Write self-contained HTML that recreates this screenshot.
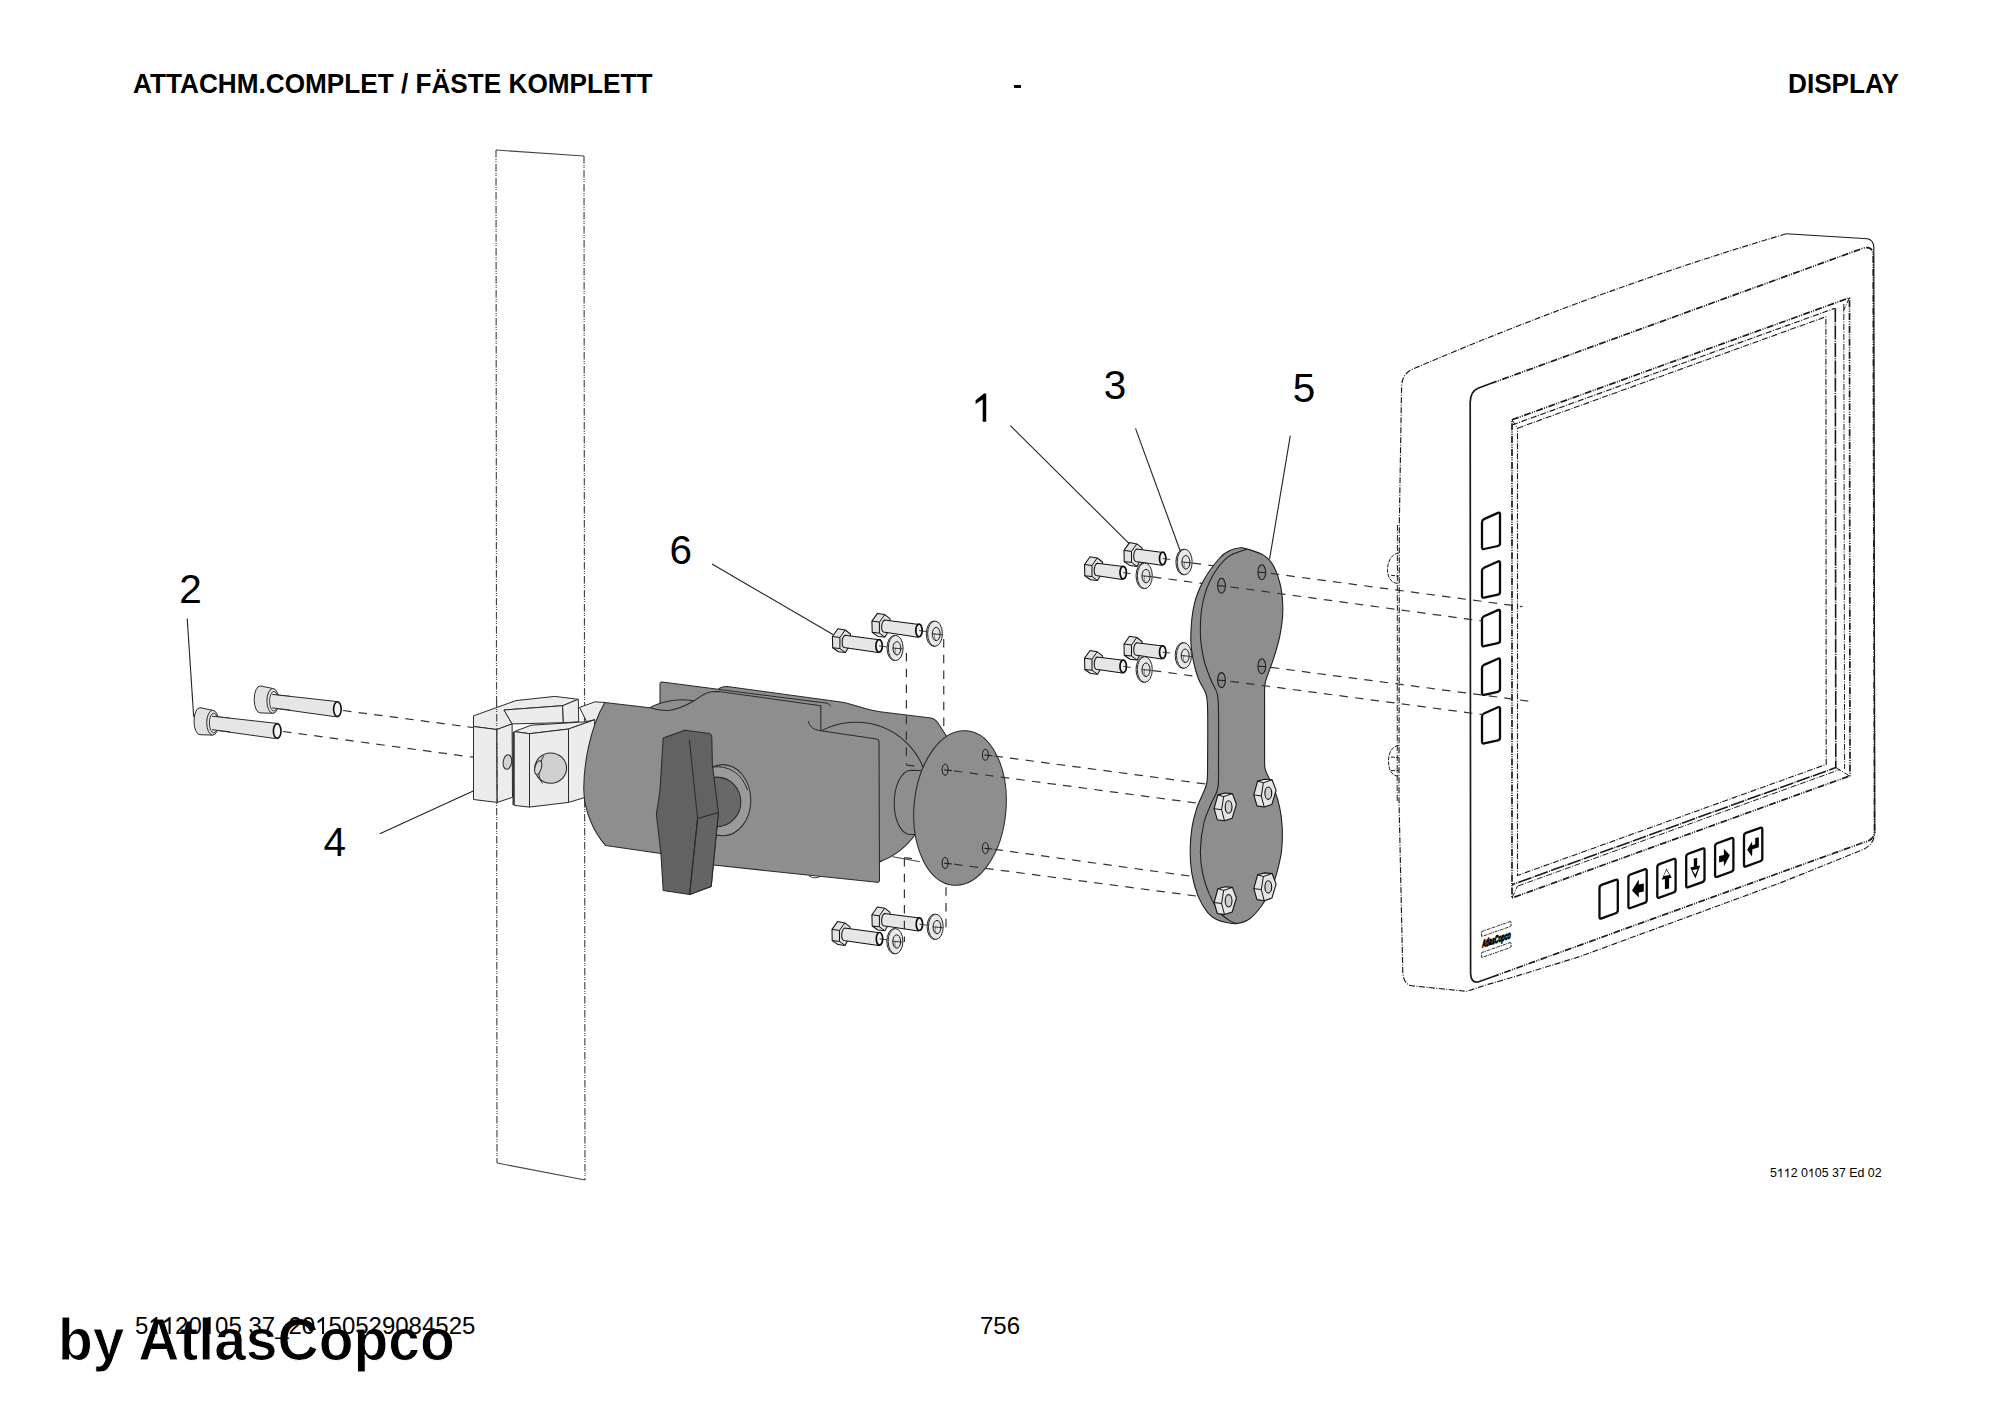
<!DOCTYPE html><html><head><meta charset="utf-8"><style>html,body{margin:0;padding:0;background:#fff;overflow:hidden}svg{display:block}</style></head><body>
<svg width="2000" height="1414" viewBox="0 0 2000 1414">
<rect width="2000" height="1414" fill="#fff"/>
<g stroke="#454545" stroke-width="1.15" fill="none">
<path d="M496,150 L497,1163" stroke-dasharray="7.5 1.5 1 1 1 2"/>
<path d="M584,156 L585,1180" stroke-dasharray="7.5 1.5 1 1 1 2"/>
<path d="M496,150 L584,156"/>
<path d="M497,1163 L585,1180"/>
</g>
<path d="M343.0,710.5 L473.0,727.5" stroke="#333" stroke-width="1.2" fill="none" stroke-dasharray="8.5 7.2" stroke-dashoffset="0"/>
<path d="M283.0,731.5 L473.0,757.2" stroke="#333" stroke-width="1.2" fill="none" stroke-dasharray="8.5 7.2" stroke-dashoffset="0"/>
<polygon points="270.7,694.2 338.2,701.7 335.2,716.7 270.7,707.7" fill="#e6e6e6" stroke="#2a2a2a" stroke-width="1"/>
<ellipse cx="337.4" cy="709.2" rx="3.8" ry="7.4" fill="#f4f4f4" stroke="#111" stroke-width="1.6"/>
<path d="M260.2,685.9 A6,13.5 0 0 0 260.2,712.9 L272.9,713.3 L272.9,688.5 Z" fill="#e2e2e2" stroke="#2a2a2a" stroke-width="1"/>
<ellipse cx="272.9" cy="700.9" rx="6" ry="12.4" fill="#e2e2e2" stroke="#2a2a2a" stroke-width="1"/>
<ellipse cx="273.9" cy="701.2" rx="4.3" ry="9.8" fill="#e8e8e8" stroke="#2a2a2a" stroke-width="0.9"/>
<polygon points="272.2,694.4 290.2,696.4 290.2,710.0 272.2,707.9" fill="#e6e6e6" stroke="none"/>
<path d="M272.2,694.4 L290.2,696.4 M272.2,707.9 L290.2,710.0" stroke="#2a2a2a" stroke-width="1" fill="none"/>
<polygon points="210.5,716.0 278.0,723.5 275.0,738.5 210.5,729.5" fill="#e6e6e6" stroke="#2a2a2a" stroke-width="1"/>
<ellipse cx="277.2" cy="731" rx="3.8" ry="7.4" fill="#f4f4f4" stroke="#111" stroke-width="1.6"/>
<path d="M200.0,707.7 A6,13.5 0 0 0 200.0,734.7 L212.7,735.1 L212.7,710.3 Z" fill="#e2e2e2" stroke="#2a2a2a" stroke-width="1"/>
<ellipse cx="212.7" cy="722.7" rx="6" ry="12.4" fill="#e2e2e2" stroke="#2a2a2a" stroke-width="1"/>
<ellipse cx="213.7" cy="723.0" rx="4.3" ry="9.8" fill="#e8e8e8" stroke="#2a2a2a" stroke-width="0.9"/>
<polygon points="212.0,716.2 230.0,718.2 230.0,731.8 212.0,729.7" fill="#e6e6e6" stroke="none"/>
<path d="M212.0,716.2 L230.0,718.2 M212.0,729.7 L230.0,731.8" stroke="#2a2a2a" stroke-width="1" fill="none"/>
<path d="M187.2,618.5 L193.7,717.0" stroke="#222" stroke-width="1.1" fill="none"/>
<path d="M379.8,833.7 L473.2,790.9" stroke="#222" stroke-width="1.1" fill="none"/>
<polygon points="579.5,707.4 594.8,701.9 606.0,702.5 606.0,760.0 586.3,721.0" fill="#ececec" stroke="#2a2a2a" stroke-width="1" stroke-linejoin="round"/>
<polygon points="473.5,715.9 515.9,700.6 554.9,696.4 578.3,699.3 562.6,705.7 504.0,710.0 512.1,723.9 496.8,729.5 473.5,726.5" fill="#ececec" stroke="#2a2a2a" stroke-width="1" stroke-linejoin="round"/>
<polygon points="504.0,710.0 562.6,705.7 563.4,722.7 512.1,723.9" fill="#ececec" stroke="#2a2a2a" stroke-width="1" stroke-linejoin="round"/>
<polygon points="562.6,705.7 578.3,699.3 578.7,721.8 563.4,722.7" fill="#ececec" stroke="#2a2a2a" stroke-width="1" stroke-linejoin="round"/>
<polygon points="473.5,726.5 496.8,729.5 497.2,802.4 473.5,799.5" fill="#ececec" stroke="#2a2a2a" stroke-width="1" stroke-linejoin="round"/>
<polygon points="496.8,729.5 512.1,723.9 512.5,797.3 497.2,802.4" fill="#ececec" stroke="#2a2a2a" stroke-width="1" stroke-linejoin="round"/>
<ellipse cx="507.4" cy="762" rx="4.2" ry="7.4" fill="#d2d2d2" stroke="#2a2a2a" stroke-width="1" transform="rotate(8 507.4 762)"/>
<polygon points="514.2,731.6 531.2,725.2 585.5,721.8 594.8,719.7 568.5,729.0 529.5,733.7" fill="#ececec" stroke="#2a2a2a" stroke-width="1" stroke-linejoin="round"/>
<polygon points="568.5,729.0 594.8,719.7 590.0,796.0 568.5,802.4" fill="#ececec" stroke="#2a2a2a" stroke-width="1" stroke-linejoin="round"/>
<polygon points="514.2,731.6 529.5,733.7 529.5,807.1 514.2,805.4" fill="#ececec" stroke="#2a2a2a" stroke-width="1" stroke-linejoin="round"/>
<polygon points="529.5,733.7 568.5,729.0 568.5,802.4 529.5,807.1" fill="#ececec" stroke="#2a2a2a" stroke-width="1" stroke-linejoin="round"/>
<line x1="513.3" y1="732" x2="513.3" y2="805" stroke="#333" stroke-width="1.6"/>
<ellipse cx="550.7" cy="768.1" rx="15.9" ry="15.1" fill="#d0d0d0" stroke="#2a2a2a" stroke-width="1.1"/>
<path d="M544,755.5 C538,765 537,777 542.5,783.5" fill="none" stroke="#2a2a2a" stroke-width="1"/>
<ellipse cx="538.2" cy="767.6" rx="3.2" ry="7" fill="#d8d8d8" stroke="#2a2a2a" stroke-width="1" transform="rotate(15 538.2 767.6)"/>
<path d="M496.6,700 L497.2,803" stroke="#454545" stroke-width="1.15" stroke-dasharray="7.5 1.5 1 1 1 2" fill="none"/>
<path d="M660,702 L660,684 Q660,682 662,682 L718,689.3 Q721,686.5 727,686.5 L839,701.8 C852,703.5 866,710 880,711.7 L931,718 Q935,718.8 938,723 L947,737 L947,800 L880,862 L660,840 Z" fill="#8e8e8e" stroke="#2a2a2a" stroke-width="1.05" stroke-linejoin="round"/>
<ellipse cx="856" cy="793.7" rx="72" ry="71.5" fill="#8e8e8e" stroke="#2a2a2a" stroke-width="1.05" stroke-linejoin="round"/>
<path d="M649.9,707.7 C662,700.5 682,697.5 697,701.5 L700,714 L649,714 Z" fill="#8e8e8e" stroke="#2a2a2a" stroke-width="1.05" stroke-linejoin="round"/>
<path d="M604.8,702.6 L649.9,707.7 C658,710 663,710.8 668.3,710.4 C680,709.3 688,704.5 694.9,700.3 C701,696 705,692.5 711.5,691.8 L718.8,691.4 L820.8,705.8 L820.8,730.8 L876.5,738.9 Q879,739.3 879,742 L879.5,880 Q879.5,882.6 877,882.3 L711.2,864.8 L660.8,853.6 L605.6,845.6 C594,832 584.2,812 583.8,790 C583.5,765 590,728 604.8,702.6 Z" fill="#8e8e8e" stroke="#2a2a2a" stroke-width="1.05" stroke-linejoin="round"/>
<path d="M718.5,689.4 L827,703.2 Q829.5,703.8 830.5,706.3" fill="none" stroke="#2a2a2a" stroke-width="1"/>
<path d="M808.1,720.9 Q810,729.5 820.8,730.8" fill="none" stroke="#2a2a2a" stroke-width="1"/>
<ellipse cx="722.8" cy="800.2" rx="28" ry="35.6" fill="#9a9a9a" stroke="#2a2a2a" stroke-width="1.05"/>
<path d="M712.6,767 C728,765.5 741,772 747.5,790" fill="none" stroke="#2a2a2a" stroke-width="1"/>
<ellipse cx="716.8" cy="801.9" rx="24" ry="24.8" fill="#686868" stroke="#2a2a2a" stroke-width="1.05"/>
<path d="M663.2,738 L684.8,730.2 L709.6,733.4 Q711.8,734.5 711.8,737 L712.4,764.7 L718.4,812.8 L711.2,886.4 L689.6,894.4 L663.2,890.4 L660.8,852 L656.4,814.5 L660,790 Z" fill="#626262" stroke="#2a2a2a" stroke-width="1.05" stroke-linejoin="round"/>
<path d="M697.6,818.4 L718.4,812.5 L711.2,886.4 L689.6,894.4 Z" fill="#646464" stroke="#2a2a2a" stroke-width="1.05" stroke-linejoin="round"/>
<path d="M689.4,739.9 L697.6,818.4 L689.6,894.4" fill="none" stroke="#2a2a2a" stroke-width="1"/>
<path d="M808.8,875.6 Q814,879.5 820,876.6" fill="none" stroke="#2a2a2a" stroke-width="0.9"/>
<path d="M906.4,653.0 L906.4,764.5" stroke="#333" stroke-width="1.2" fill="none" stroke-dasharray="8.5 7.2" stroke-dashoffset="0"/>
<path d="M906.4,765.2 L914.5,765.8" stroke="#333" stroke-width="1.2" fill="none" stroke-dasharray="8 7" stroke-dashoffset="0"/>
<path d="M943.7,639.0 L943.8,732.0" stroke="#333" stroke-width="1.2" fill="none" stroke-dasharray="8.5 7.2" stroke-dashoffset="0"/>
<path d="M911,770.3 L935,771 L935,834.5 L910,834.5 C900,834 894.2,818 894.2,803.5 C894.2,786 901,771 911,770.3 Z" fill="#8e8e8e" stroke="#2a2a2a" stroke-width="1.05"/>
<path d="M892.3,856.7 L919.8,861.7" stroke="#2a2a2a" stroke-width="0.9" fill="none"/>
<ellipse cx="960" cy="808" rx="46" ry="77.5" transform="rotate(5 960 808)" fill="#8e8e8e" stroke="#2a2a2a" stroke-width="1.05"/>
<ellipse cx="945.1" cy="769.7" rx="3" ry="5.6" fill="none" stroke="#1a1a1a" stroke-width="1"/>
<path d="M944.1,769.9 L952.1,770.7" stroke="#1a1a1a" stroke-width="1"/>
<ellipse cx="985.4" cy="754.8" rx="3" ry="5.6" fill="none" stroke="#1a1a1a" stroke-width="1"/>
<path d="M984.4,755.0 L992.4,755.8" stroke="#1a1a1a" stroke-width="1"/>
<ellipse cx="945.1" cy="863" rx="3" ry="5.6" fill="none" stroke="#1a1a1a" stroke-width="1"/>
<path d="M944.1,863.2 L952.1,864.0" stroke="#1a1a1a" stroke-width="1"/>
<ellipse cx="985.4" cy="848.1" rx="3" ry="5.6" fill="none" stroke="#1a1a1a" stroke-width="1"/>
<path d="M984.4,848.3 L992.4,849.1" stroke="#1a1a1a" stroke-width="1"/>
<path d="M954.1,770.9 L1215.0,805.5" stroke="#333" stroke-width="1.2" fill="none" stroke-dasharray="8.5 7.2" stroke-dashoffset="0"/>
<path d="M994.4,756.0 L1255.0,790.5" stroke="#333" stroke-width="1.2" fill="none" stroke-dasharray="8.5 7.2" stroke-dashoffset="0"/>
<path d="M954.1,864.2 L1215.0,898.5" stroke="#333" stroke-width="1.2" fill="none" stroke-dasharray="8.5 7.2" stroke-dashoffset="0"/>
<path d="M994.4,849.3 L1255.0,885.0" stroke="#333" stroke-width="1.2" fill="none" stroke-dasharray="8.5 7.2" stroke-dashoffset="0"/>
<polygon points="871.9,621.1 877.4,613.4 884.7,614.6 889.9,618.6 890.2,625.4 887.4,632.9 884.9,637.1 877.9,636.4 872.2,632.4" fill="#e2e2e2" stroke="#111" stroke-width="1.05" stroke-linejoin="round"/>
<path d="M871.9,621.1 L879.4,622.1 L884.7,614.6 M879.4,622.1 L879.4,633.1 L884.9,637.1 M872.2,632.4 L879.4,633.1" fill="none" stroke="#111" stroke-width="1"/>
<path d="M884.4,619.9 L919.2,624.4 L918.0,637.3 L883.4,632.1 C880.9,630.4 880.9,622.4 884.4,619.9 Z" fill="#e6e6e6" stroke="#111" stroke-width="1.05" stroke-linejoin="round"/>
<ellipse cx="919.0" cy="630.5" rx="3.2" ry="6.3" fill="#f4f4f4" stroke="#0a0a0a" stroke-width="1.7"/>
<path d="M919.0,630.5 L926.5,631.5" stroke="#222" stroke-width="0.9"/>
<ellipse cx="933.7" cy="633.7" rx="7.4" ry="12.6" fill="#e0e0e0" stroke="#2a2a2a" stroke-width="1"/>
<ellipse cx="935.0" cy="633.7" rx="7.4" ry="12.6" fill="#e8e8e8" stroke="#2a2a2a" stroke-width="1"/>
<ellipse cx="936.2" cy="634.0" rx="3.9" ry="6.7" fill="#e4e4e4" stroke="#1a1a1a" stroke-width="1"/>
<path d="M935.2,633.5 C933.5,636.7 934.5,638.7 935.8,640.2" fill="none" stroke="#333" stroke-width="0.6"/>
<path d="M932.0,633.7 L942.0,634.6" stroke="#222" stroke-width="0.9"/>
<polygon points="832.4,636.5 837.9,628.8 845.2,630.0 850.4,634.0 850.7,640.8 847.9,648.3 845.4,652.5 838.4,651.8 832.7,647.8" fill="#e2e2e2" stroke="#111" stroke-width="1.05" stroke-linejoin="round"/>
<path d="M832.4,636.5 L839.9,637.5 L845.2,630.0 M839.9,637.5 L839.9,648.5 L845.4,652.5 M832.7,647.8 L839.9,648.5" fill="none" stroke="#111" stroke-width="1"/>
<path d="M844.9,635.3 L879.3,639.8 L878.1,652.6 L843.9,647.5 C841.4,645.8 841.4,637.8 844.9,635.3 Z" fill="#e6e6e6" stroke="#111" stroke-width="1.05" stroke-linejoin="round"/>
<ellipse cx="879.1" cy="645.9" rx="3.2" ry="6.3" fill="#f4f4f4" stroke="#0a0a0a" stroke-width="1.7"/>
<path d="M879.1,645.9 L886.6,646.9" stroke="#222" stroke-width="0.9"/>
<ellipse cx="894.4" cy="648.0" rx="7.4" ry="12.6" fill="#e0e0e0" stroke="#2a2a2a" stroke-width="1"/>
<ellipse cx="895.7" cy="648.0" rx="7.4" ry="12.6" fill="#e8e8e8" stroke="#2a2a2a" stroke-width="1"/>
<ellipse cx="896.9" cy="648.3" rx="3.9" ry="6.7" fill="#e4e4e4" stroke="#1a1a1a" stroke-width="1"/>
<path d="M895.9,647.8 C894.2,651.0 895.2,653.0 896.5,654.5" fill="none" stroke="#333" stroke-width="0.6"/>
<path d="M892.7,648.0 L902.7,648.9" stroke="#222" stroke-width="0.9"/>
<polygon points="871.9,914.8 877.4,907.0 884.7,908.2 889.9,912.2 890.2,919.0 887.4,926.5 884.9,930.8 877.9,930.0 872.2,926.0" fill="#e2e2e2" stroke="#111" stroke-width="1.05" stroke-linejoin="round"/>
<path d="M871.9,914.8 L879.4,915.8 L884.7,908.2 M879.4,915.8 L879.4,926.8 L884.9,930.8 M872.2,926.0 L879.4,926.8" fill="none" stroke="#111" stroke-width="1"/>
<path d="M884.4,913.5 L919.6,918.1 L918.4,930.9 L883.4,925.8 C880.9,924.0 880.9,916.0 884.4,913.5 Z" fill="#e6e6e6" stroke="#111" stroke-width="1.05" stroke-linejoin="round"/>
<ellipse cx="919.4" cy="924.2" rx="3.2" ry="6.3" fill="#f4f4f4" stroke="#0a0a0a" stroke-width="1.7"/>
<path d="M919.4,924.2 L926.9,925.2" stroke="#222" stroke-width="0.9"/>
<ellipse cx="934.5" cy="926.8" rx="7.4" ry="12.6" fill="#e0e0e0" stroke="#2a2a2a" stroke-width="1"/>
<ellipse cx="935.8" cy="926.8" rx="7.4" ry="12.6" fill="#e8e8e8" stroke="#2a2a2a" stroke-width="1"/>
<ellipse cx="937.0" cy="927.1" rx="3.9" ry="6.7" fill="#e4e4e4" stroke="#1a1a1a" stroke-width="1"/>
<path d="M936.0,926.6 C934.3,929.8 935.3,931.8 936.6,933.3" fill="none" stroke="#333" stroke-width="0.6"/>
<path d="M932.8,926.8 L942.8,927.7" stroke="#222" stroke-width="0.9"/>
<polygon points="832.0,929.4 837.5,921.6 844.8,922.9 850.0,926.9 850.3,933.6 847.5,941.1 845.0,945.4 838.0,944.6 832.2,940.6" fill="#e2e2e2" stroke="#111" stroke-width="1.05" stroke-linejoin="round"/>
<path d="M832.0,929.4 L839.5,930.4 L844.8,922.9 M839.5,930.4 L839.5,941.4 L845.0,945.4 M832.2,940.6 L839.5,941.4" fill="none" stroke="#111" stroke-width="1"/>
<path d="M844.5,928.1 L879.7,932.7 L878.5,945.5 L843.5,940.4 C841.0,938.6 841.0,930.6 844.5,928.1 Z" fill="#e6e6e6" stroke="#111" stroke-width="1.05" stroke-linejoin="round"/>
<ellipse cx="879.5" cy="938.8" rx="3.2" ry="6.3" fill="#f4f4f4" stroke="#0a0a0a" stroke-width="1.7"/>
<path d="M879.5,938.8 L887.0,939.8" stroke="#222" stroke-width="0.9"/>
<ellipse cx="894.2" cy="941.2" rx="7.4" ry="12.6" fill="#e0e0e0" stroke="#2a2a2a" stroke-width="1"/>
<ellipse cx="895.5" cy="941.2" rx="7.4" ry="12.6" fill="#e8e8e8" stroke="#2a2a2a" stroke-width="1"/>
<ellipse cx="896.7" cy="941.5" rx="3.9" ry="6.7" fill="#e4e4e4" stroke="#1a1a1a" stroke-width="1"/>
<path d="M895.7,941.0 C894.0,944.2 895.0,946.2 896.3,947.7" fill="none" stroke="#333" stroke-width="0.6"/>
<path d="M892.5,941.2 L902.5,942.1" stroke="#222" stroke-width="0.9"/>
<path d="M904.4,858.0 L904.4,942.0" stroke="#333" stroke-width="1.2" fill="none" stroke-dasharray="8.5 7.2" stroke-dashoffset="0"/>
<path d="M904.4,857.6 L912.0,858.6" stroke="#333" stroke-width="1.2" fill="none" stroke-dasharray="8 7" stroke-dashoffset="0"/>
<path d="M946.0,887.3 L946.0,928.0" stroke="#333" stroke-width="1.2" fill="none" stroke-dasharray="8.5 7.2" stroke-dashoffset="0"/>
<path d="M712.0,564.0 L833.0,634.5" stroke="#222" stroke-width="1.1" fill="none"/>
<path d="M1192.7,563.1 L1261.5,572.2" stroke="#333" stroke-width="1.2" fill="none" stroke-dasharray="8.5 7.2" stroke-dashoffset="0"/>
<path d="M1152.8,576.9 L1221.5,586.2" stroke="#333" stroke-width="1.2" fill="none" stroke-dasharray="8.5 7.2" stroke-dashoffset="0"/>
<path d="M1192.0,656.6 L1261.5,665.7" stroke="#333" stroke-width="1.2" fill="none" stroke-dasharray="8.5 7.2" stroke-dashoffset="0"/>
<path d="M1152.8,670.6 L1221.5,679.7" stroke="#333" stroke-width="1.2" fill="none" stroke-dasharray="8.5 7.2" stroke-dashoffset="0"/>
<g fill="none" stroke="#1a1a1a" stroke-linejoin="round">
<path d="M1786.2,233.8 Q1599.1,289.15 1412,369.4 Q1402,374.5 1401.6,386 L1399.3,525 L1399,800 L1402.8,973 Q1404,985 1412,985.8 L1467,991.3 L1488,984.4 L1515,976.6 L1580,956.5 L1780,883 L1862,850 Q1874.5,845 1874.8,832" stroke-width="1.15" stroke-dasharray="6 1.5 1 1.5"/>
<path d="M1786.2,233.8 L1867.5,238.7 Q1873.5,240 1873.8,247 L1874.8,832" stroke-width="1.15"/>
<path d="M1397.4,525 L1397.2,801" stroke-width="1" stroke-dasharray="6 1.5 1 1.5"/>
<path d="M1398.8,553.2 C1392,553.5 1387.5,561 1387.5,569.7 C1387.5,577 1391,583.5 1398.8,583.5 M1391.1,575.2 L1398.8,576.3" stroke-width="1" stroke-dasharray="4 1.2"/>
<path d="M1398.8,745.6 C1392,746 1388.5,753 1388.5,761 C1388.5,769 1391,776 1398.8,776.2 M1391,757 L1398.8,757.6 M1391,770.5 L1398.8,771" stroke-width="1" stroke-dasharray="4 1.2"/>
<path d="M1490,383.8 L1863,248.2 Q1872.8,245.5 1873.2,255 L1874.5,832 Q1874,840 1864.8,842 L1492,977" stroke-width="1.7" stroke-dasharray="7 1.3 1 1.3 1 1.3"/>
<path d="M1490,383.8 L1478,388.2 Q1470.5,391.5 1470.2,402 L1470.6,973.6 Q1470.8,983 1478,982 L1492,977" stroke-width="1.7"/>
<path d="M1512,419.8 L1849.5,297.8 L1850,775.8 L1512,898 Z" stroke-width="1.7" stroke-dasharray="7 1.3 1 1.3 1 1.3"/>
<path d="M1512,425.0 L1835,308.2" stroke-width="1.15" stroke-dasharray="6 1.5 1 1.5"/>
<path d="M1835.3,308.2 L1835.8,767.6 L1512,884.7" stroke-width="1.6" stroke-dasharray="14 1.2 1 1.2"/>
<path d="M1517.5,428.2 L1825.9,316.7 L1826.2,764.4 L1517.5,875.5 Z" stroke-width="1.1" stroke-dasharray="6 1.5 1 1.5"/>
<path d="M1518,886 L1840,769.5 M1843.8,304 L1844.6,769 M1512,898 L1517.5,886 M1835.8,767.6 L1850,776.3 M1512,419.8 L1517.5,428.2 M1849.5,297.6 L1843.5,311" stroke-width="1" stroke-dasharray="6 1.5 1 1.5"/>
</g>
<path d="M1484.1,549.0 Q1482.0,549.5 1482.0,547.3 L1482.0,522.2 Q1482.0,520.0 1484.0,519.1 L1498.0,512.9 Q1500.0,512.0 1500.0,514.2 L1500.0,543.3 Q1500.0,545.5 1497.9,546.0 Z" fill="none" stroke="#0a0a0a" stroke-width="2.3" stroke-linejoin="round"/>
<path d="M1484.1,597.6 Q1482.0,598.1 1482.0,595.9 L1482.0,570.8 Q1482.0,568.6 1484.0,567.7 L1498.0,561.5 Q1500.0,560.6 1500.0,562.8 L1500.0,591.9 Q1500.0,594.1 1497.9,594.6 Z" fill="none" stroke="#0a0a0a" stroke-width="2.3" stroke-linejoin="round"/>
<path d="M1484.1,646.2 Q1482.0,646.7 1482.0,644.5 L1482.0,619.4 Q1482.0,617.2 1484.0,616.3 L1498.0,610.1 Q1500.0,609.2 1500.0,611.4 L1500.0,640.5 Q1500.0,642.7 1497.9,643.2 Z" fill="none" stroke="#0a0a0a" stroke-width="2.3" stroke-linejoin="round"/>
<path d="M1484.1,694.8 Q1482.0,695.3 1482.0,693.1 L1482.0,668.0 Q1482.0,665.8 1484.0,664.9 L1498.0,658.7 Q1500.0,657.8 1500.0,660.0 L1500.0,689.1 Q1500.0,691.3 1497.9,691.8 Z" fill="none" stroke="#0a0a0a" stroke-width="2.3" stroke-linejoin="round"/>
<path d="M1484.1,743.4 Q1482.0,743.9 1482.0,741.7 L1482.0,716.6 Q1482.0,714.4 1484.0,713.5 L1498.0,707.3 Q1500.0,706.4 1500.0,708.6 L1500.0,737.7 Q1500.0,739.9 1497.9,740.4 Z" fill="none" stroke="#0a0a0a" stroke-width="2.3" stroke-linejoin="round"/>
<path d="M1601.6,918.4 Q1599.5,919.2 1599.5,917.0 L1599.5,887.9 Q1599.5,885.7 1601.6,884.9 L1615.7,879.8 Q1617.8,879.0 1617.8,881.2 L1617.8,910.3 Q1617.8,912.5 1615.7,913.3 Z" fill="none" stroke="#0a0a0a" stroke-width="2.3" stroke-linejoin="round"/>
<path d="M1630.5,908.0 Q1628.4,908.8 1628.4,906.6 L1628.4,877.5 Q1628.4,875.3 1630.5,874.5 L1644.6,869.4 Q1646.7,868.6 1646.7,870.8 L1646.7,899.9 Q1646.7,902.1 1644.6,902.9 Z" fill="none" stroke="#0a0a0a" stroke-width="2.3" stroke-linejoin="round"/>
<polygon points="1632.0,890.4 1638.8,879.6 1638.8,884.6 1643.8,883.4 1643.8,891.6 1638.8,892.6 1638.8,897.6" fill="#000"/>
<path d="M1659.4,897.6 Q1657.3,898.4 1657.3,896.2 L1657.3,867.1 Q1657.3,864.9 1659.4,864.1 L1673.5,859.0 Q1675.6,858.2 1675.6,860.4 L1675.6,889.5 Q1675.6,891.7 1673.5,892.5 Z" fill="none" stroke="#0a0a0a" stroke-width="2.3" stroke-linejoin="round"/>
<polygon points="1666.5,868.4 1671.7,877.8 1669.1,878.2 1669.1,888.4 1664.9,889.2 1664.9,879.0 1661.7,879.8" fill="#000"/>
<polygon points="1666.5,869.9 1669.5,874.9 1663.7,876.0" fill="#fff"/>
<path d="M1688.3,887.2 Q1686.2,888.0 1686.2,885.8 L1686.2,856.7 Q1686.2,854.5 1688.3,853.7 L1702.4,848.6 Q1704.5,847.8 1704.5,850.0 L1704.5,879.1 Q1704.5,881.3 1702.4,882.1 Z" fill="none" stroke="#0a0a0a" stroke-width="2.3" stroke-linejoin="round"/>
<polygon points="1693.8,858.6 1697.2,858.0 1697.2,866.0 1700.2,865.6 1695.4,878.4 1690.2,867.4 1693.8,866.8" fill="#000"/>
<polygon points="1692.4,870.0 1697.6,869.2 1695.2,874.8" fill="#fff"/>
<path d="M1717.2,876.8 Q1715.1,877.6 1715.1,875.4 L1715.1,846.3 Q1715.1,844.1 1717.2,843.3 L1731.3,838.2 Q1733.4,837.4 1733.4,839.6 L1733.4,868.7 Q1733.4,870.9 1731.3,871.7 Z" fill="none" stroke="#0a0a0a" stroke-width="2.3" stroke-linejoin="round"/>
<polygon points="1719.1,856.0 1723.9,855.0 1723.9,848.8 1729.9,855.2 1723.9,866.6 1723.9,861.2 1719.1,862.4" fill="#000"/>
<path d="M1746.1,866.4 Q1744.0,867.2 1744.0,865.0 L1744.0,835.9 Q1744.0,833.7 1746.1,832.9 L1760.2,827.8 Q1762.3,827.0 1762.3,829.2 L1762.3,858.3 Q1762.3,860.5 1760.2,861.3 Z" fill="none" stroke="#0a0a0a" stroke-width="2.3" stroke-linejoin="round"/>
<polygon points="1755.2,838.0 1758.8,837.2 1758.8,847.2 1752.4,849.2 1752.0,856.4 1747.2,849.8 1752.0,841.6 1752.2,845.2 1755.2,844.2" fill="#000"/>
<g fill="none" stroke="#111" stroke-width="0.9" stroke-dasharray="3 0.8 1 0.8">
<polygon points="1481.6,931.5 1511.0,921.3 1511.0,926.3 1481.6,936.5"/>
<polygon points="1481.6,952.6 1511.0,942.3 1511.0,947.3 1481.6,957.6"/>
</g>
<g transform="translate(1482.2,947.6) skewY(-18.3)"><text x="0" y="0" font-family="Liberation Sans" font-size="10.5" font-weight="bold" font-style="italic" fill="#000" textLength="28.5" lengthAdjust="spacingAndGlyphs" stroke="#000" stroke-width="1.1">AtlasCopco</text></g>
<path d="M1240.1,547.8 C1243.0,547.5 1243.3,547.7 1247.3,549.0 C1251.3,550.3 1259.8,552.7 1264.2,555.6 C1268.6,558.5 1271.0,561.1 1273.8,566.5 C1276.6,571.9 1279.5,580.5 1281.0,588.1 C1282.5,595.7 1283.0,604.1 1282.8,612.1 C1282.6,620.1 1281.3,628.6 1279.8,636.2 C1278.3,643.8 1275.8,651.4 1273.8,657.8 C1271.8,664.2 1269.3,670.0 1267.8,674.7 C1266.3,679.4 1265.3,680.1 1264.8,686.0 C1264.3,691.9 1264.6,697.7 1264.6,710.0 C1264.6,722.3 1264.5,750.1 1264.6,760.0 C1264.7,769.9 1264.7,766.6 1265.4,769.6 C1266.1,772.6 1267.4,774.4 1269.0,778.0 C1270.6,781.6 1273.2,786.3 1275.0,791.3 C1276.8,796.3 1278.6,802.1 1279.8,808.1 C1281.0,814.1 1281.9,820.3 1282.2,827.3 C1282.5,834.3 1282.4,843.0 1281.6,850.2 C1280.8,857.4 1279.1,864.2 1277.4,870.6 C1275.7,877.0 1274.0,882.9 1271.4,888.7 C1268.8,894.5 1265.4,900.5 1261.8,905.5 C1258.2,910.5 1253.7,915.7 1249.7,918.7 C1245.7,921.7 1241.3,922.8 1237.7,923.5 C1234.1,924.2 1231.5,923.5 1228.0,922.8 C1224.5,922.1 1219.9,921.2 1216.5,919.5 C1213.1,917.8 1210.8,916.6 1207.7,912.7 C1204.6,908.8 1200.6,902.3 1198.0,895.9 C1195.4,889.5 1193.3,881.8 1192.0,874.2 C1190.7,866.6 1190.2,858.0 1190.2,850.2 C1190.2,842.4 1190.9,834.3 1192.0,827.3 C1193.1,820.3 1194.9,813.9 1196.8,808.1 C1198.7,802.3 1201.8,796.7 1203.5,792.3 C1205.2,787.9 1206.3,787.0 1207.0,781.6 C1207.7,776.2 1207.5,771.9 1207.6,760.0 C1207.7,748.1 1207.9,721.0 1207.6,710.0 C1207.3,699.0 1207.5,699.2 1206.0,694.0 C1204.5,688.8 1200.6,684.6 1198.5,679.0 C1196.4,673.4 1194.5,667.3 1193.2,660.2 C1191.9,653.1 1190.6,645.6 1190.8,636.2 C1191.0,626.8 1192.2,613.1 1194.4,603.7 C1196.6,594.3 1199.8,587.3 1204.0,579.7 C1208.2,572.1 1215.4,562.9 1219.7,558.0 C1224.0,553.1 1226.6,552.2 1230.0,550.5 C1233.4,548.8 1237.2,548.0 1240.1,547.8 Z" fill="#8e8e8e" stroke="#1e1e1e" stroke-width="1.1"/>
<path d="M1247.3,549.0 C1244.1,550.3 1233.9,552.3 1228.1,556.8 C1222.3,561.3 1216.7,568.5 1212.5,576.1 C1208.3,583.7 1204.8,592.9 1202.8,602.5 C1200.8,612.1 1200.2,624.2 1200.4,633.8 C1200.6,643.4 1202.2,652.4 1204.0,660.2 C1205.8,668.0 1209.1,675.1 1211.3,680.7 C1213.5,686.3 1216.1,688.8 1217.3,694.0 C1218.5,699.2 1218.3,701.0 1218.5,712.0 C1218.7,723.0 1218.6,747.4 1218.5,760.0 C1218.4,772.6 1219.1,780.5 1217.9,787.7 C1216.7,794.9 1213.6,797.5 1211.3,803.3 C1209.0,809.1 1205.8,814.7 1204.0,822.5 C1202.2,830.3 1200.6,841.6 1200.4,850.2 C1200.2,858.8 1201.2,866.6 1202.8,874.2 C1204.4,881.8 1207.3,889.5 1210.1,895.9 C1212.9,902.3 1216.3,908.5 1219.7,912.7 C1223.1,916.9 1227.5,919.3 1230.5,921.1 C1233.5,922.9 1236.5,923.1 1237.7,923.5 " fill="none" stroke="#1e1e1e" stroke-width="1.05"/>
<ellipse cx="1221.5" cy="585.7" rx="3.9" ry="7.5" fill="#858585" stroke="#1a1a1a" stroke-width="1.05"/>
<path d="M1217.8,585.7 L1225.2,586.2" stroke="#1a1a1a" stroke-width="1"/>
<ellipse cx="1261.8" cy="572.2" rx="3.9" ry="7.5" fill="#858585" stroke="#1a1a1a" stroke-width="1.05"/>
<path d="M1258.1,572.2 L1265.5,572.7" stroke="#1a1a1a" stroke-width="1"/>
<ellipse cx="1221.5" cy="680.1" rx="3.9" ry="7.5" fill="#858585" stroke="#1a1a1a" stroke-width="1.05"/>
<path d="M1217.8,680.1 L1225.2,680.6" stroke="#1a1a1a" stroke-width="1"/>
<ellipse cx="1261.8" cy="666.2" rx="3.9" ry="7.5" fill="#858585" stroke="#1a1a1a" stroke-width="1.05"/>
<path d="M1258.1,666.2 L1265.5,666.7" stroke="#1a1a1a" stroke-width="1"/>
<polygon points="1214.1,808.7 1217.9,794.9 1225.0,793.0 1232.4,793.6 1236.4,804.2 1232.2,818.2 1224.5,820.8 1217.3,819.7" fill="#e6e6e6" stroke="#111" stroke-width="1.1" stroke-linejoin="round"/>
<path d="M1217.9,794.9 L1223.7,796.6 L1232.4,793.6 M1223.7,796.6 L1221.6,809.7 L1224.5,820.8 M1214.1,808.7 L1221.6,809.7" fill="none" stroke="#111" stroke-width="1"/>
<ellipse cx="1228.6" cy="807.0" rx="3.4" ry="6.2" fill="#cfcfcf" stroke="#111" stroke-width="1.1"/>
<polygon points="1253.8,794.9 1257.6,781.1 1264.7,779.2 1272.1,779.8 1276.1,790.4 1271.9,804.4 1264.2,807.0 1257.0,805.9" fill="#e6e6e6" stroke="#111" stroke-width="1.1" stroke-linejoin="round"/>
<path d="M1257.6,781.1 L1263.4,782.8 L1272.1,779.8 M1263.4,782.8 L1261.3,795.9 L1264.2,807.0 M1253.8,794.9 L1261.3,795.9" fill="none" stroke="#111" stroke-width="1"/>
<ellipse cx="1268.3" cy="793.2" rx="3.4" ry="6.2" fill="#cfcfcf" stroke="#111" stroke-width="1.1"/>
<polygon points="1214.1,902.5 1217.9,888.7 1225.0,886.8 1232.4,887.4 1236.4,898.0 1232.2,912.0 1224.5,914.6 1217.3,913.5" fill="#e6e6e6" stroke="#111" stroke-width="1.1" stroke-linejoin="round"/>
<path d="M1217.9,888.7 L1223.7,890.4 L1232.4,887.4 M1223.7,890.4 L1221.6,903.5 L1224.5,914.6 M1214.1,902.5 L1221.6,903.5" fill="none" stroke="#111" stroke-width="1"/>
<ellipse cx="1228.6" cy="900.8" rx="3.4" ry="6.2" fill="#cfcfcf" stroke="#111" stroke-width="1.1"/>
<polygon points="1253.8,888.6 1257.6,874.8 1264.7,872.9 1272.1,873.5 1276.1,884.1 1271.9,898.1 1264.2,900.7 1257.0,899.6" fill="#e6e6e6" stroke="#111" stroke-width="1.1" stroke-linejoin="round"/>
<path d="M1257.6,874.8 L1263.4,876.5 L1272.1,873.5 M1263.4,876.5 L1261.3,889.6 L1264.2,900.7 M1253.8,888.6 L1261.3,889.6" fill="none" stroke="#111" stroke-width="1"/>
<ellipse cx="1268.3" cy="886.9" rx="3.4" ry="6.2" fill="#cfcfcf" stroke="#111" stroke-width="1.1"/>
<path d="M1267.8,573.0 L1522.5,606.7" stroke="#333" stroke-width="1.2" fill="none" stroke-dasharray="8.5 7.2" stroke-dashoffset="-3"/>
<path d="M1227.5,586.5 L1482.0,621.0" stroke="#333" stroke-width="1.2" fill="none" stroke-dasharray="8.5 7.2" stroke-dashoffset="-3"/>
<path d="M1267.8,667.0 L1529.2,701.2" stroke="#333" stroke-width="1.2" fill="none" stroke-dasharray="8.5 7.2" stroke-dashoffset="-3"/>
<path d="M1227.5,680.9 L1483.5,714.7" stroke="#333" stroke-width="1.2" fill="none" stroke-dasharray="8.5 7.2" stroke-dashoffset="-3"/>
<polygon points="1124.0,550.4 1129.5,542.6 1136.8,543.9 1142.0,547.9 1142.3,554.6 1139.5,562.1 1137.0,566.4 1130.0,565.6 1124.2,561.6" fill="#e2e2e2" stroke="#111" stroke-width="1.05" stroke-linejoin="round"/>
<path d="M1124.0,550.4 L1131.5,551.4 L1136.8,543.9 M1131.5,551.4 L1131.5,562.4 L1137.0,566.4 M1124.2,561.6 L1131.5,562.4" fill="none" stroke="#111" stroke-width="1"/>
<path d="M1136.5,549.1 L1162.9,552.4 L1161.7,565.2 L1135.5,561.4 C1133.0,559.6 1133.0,551.6 1136.5,549.1 Z" fill="#e6e6e6" stroke="#111" stroke-width="1.05" stroke-linejoin="round"/>
<ellipse cx="1162.7" cy="558.5" rx="3.2" ry="6.3" fill="#f4f4f4" stroke="#0a0a0a" stroke-width="1.7"/>
<path d="M1162.7,558.5 L1170.2,559.5" stroke="#222" stroke-width="0.9"/>
<polygon points="1084.5,564.5 1090.0,556.8 1097.2,558.0 1102.5,562.0 1102.8,568.8 1100.0,576.2 1097.5,580.5 1090.5,579.8 1084.8,575.8" fill="#e2e2e2" stroke="#111" stroke-width="1.05" stroke-linejoin="round"/>
<path d="M1084.5,564.5 L1092.0,565.5 L1097.2,558.0 M1092.0,565.5 L1092.0,576.5 L1097.5,580.5 M1084.8,575.8 L1092.0,576.5" fill="none" stroke="#111" stroke-width="1"/>
<path d="M1097.0,563.2 L1123.4,566.5 L1122.2,579.4 L1096.0,575.5 C1093.5,573.8 1093.5,565.8 1097.0,563.2 Z" fill="#e6e6e6" stroke="#111" stroke-width="1.05" stroke-linejoin="round"/>
<ellipse cx="1123.2" cy="572.6" rx="3.2" ry="6.3" fill="#f4f4f4" stroke="#0a0a0a" stroke-width="1.7"/>
<path d="M1123.2,572.6 L1130.7,573.6" stroke="#222" stroke-width="0.9"/>
<ellipse cx="1183.4" cy="562.0" rx="7.5" ry="12.8" fill="#e0e0e0" stroke="#2a2a2a" stroke-width="1"/>
<ellipse cx="1184.7" cy="562.0" rx="7.5" ry="12.8" fill="#e8e8e8" stroke="#2a2a2a" stroke-width="1"/>
<ellipse cx="1185.9" cy="562.3" rx="4.0" ry="6.8" fill="#e4e4e4" stroke="#1a1a1a" stroke-width="1"/>
<path d="M1184.9,561.8 C1183.2,565.0 1184.2,567.0 1185.5,568.5" fill="none" stroke="#333" stroke-width="0.6"/>
<path d="M1181.7,562.0 L1191.7,562.9" stroke="#222" stroke-width="0.9"/>
<ellipse cx="1143.5" cy="575.8" rx="7.5" ry="12.8" fill="#e0e0e0" stroke="#2a2a2a" stroke-width="1"/>
<ellipse cx="1144.8" cy="575.8" rx="7.5" ry="12.8" fill="#e8e8e8" stroke="#2a2a2a" stroke-width="1"/>
<ellipse cx="1146.0" cy="576.1" rx="4.0" ry="6.8" fill="#e4e4e4" stroke="#1a1a1a" stroke-width="1"/>
<path d="M1145.0,575.6 C1143.3,578.8 1144.3,580.8 1145.6,582.3" fill="none" stroke="#333" stroke-width="0.6"/>
<path d="M1141.8,575.8 L1151.8,576.7" stroke="#222" stroke-width="0.9"/>
<polygon points="1124.0,644.0 1129.5,636.2 1136.8,637.5 1142.0,641.5 1142.3,648.2 1139.5,655.7 1137.0,660.0 1130.0,659.2 1124.2,655.2" fill="#e2e2e2" stroke="#111" stroke-width="1.05" stroke-linejoin="round"/>
<path d="M1124.0,644.0 L1131.5,645.0 L1136.8,637.5 M1131.5,645.0 L1131.5,656.0 L1137.0,660.0 M1124.2,655.2 L1131.5,656.0" fill="none" stroke="#111" stroke-width="1"/>
<path d="M1136.5,642.7 L1162.9,646.0 L1161.7,658.9 L1135.5,655.0 C1133.0,653.2 1133.0,645.2 1136.5,642.7 Z" fill="#e6e6e6" stroke="#111" stroke-width="1.05" stroke-linejoin="round"/>
<ellipse cx="1162.7" cy="652.1" rx="3.2" ry="6.3" fill="#f4f4f4" stroke="#0a0a0a" stroke-width="1.7"/>
<path d="M1162.7,652.1 L1170.2,653.1" stroke="#222" stroke-width="0.9"/>
<polygon points="1084.5,658.2 1090.0,650.5 1097.2,651.8 1102.5,655.8 1102.8,662.5 1100.0,670.0 1097.5,674.2 1090.5,673.5 1084.8,669.5" fill="#e2e2e2" stroke="#111" stroke-width="1.05" stroke-linejoin="round"/>
<path d="M1084.5,658.2 L1092.0,659.2 L1097.2,651.8 M1092.0,659.2 L1092.0,670.2 L1097.5,674.2 M1084.8,669.5 L1092.0,670.2" fill="none" stroke="#111" stroke-width="1"/>
<path d="M1097.0,657.0 L1123.4,660.3 L1122.2,673.1 L1096.0,669.2 C1093.5,667.5 1093.5,659.5 1097.0,657.0 Z" fill="#e6e6e6" stroke="#111" stroke-width="1.05" stroke-linejoin="round"/>
<ellipse cx="1123.2" cy="666.4" rx="3.2" ry="6.3" fill="#f4f4f4" stroke="#0a0a0a" stroke-width="1.7"/>
<path d="M1123.2,666.4 L1130.7,667.4" stroke="#222" stroke-width="0.9"/>
<ellipse cx="1182.7" cy="655.5" rx="7.5" ry="12.8" fill="#e0e0e0" stroke="#2a2a2a" stroke-width="1"/>
<ellipse cx="1184.0" cy="655.5" rx="7.5" ry="12.8" fill="#e8e8e8" stroke="#2a2a2a" stroke-width="1"/>
<ellipse cx="1185.2" cy="655.8" rx="4.0" ry="6.8" fill="#e4e4e4" stroke="#1a1a1a" stroke-width="1"/>
<path d="M1184.2,655.3 C1182.5,658.5 1183.5,660.5 1184.8,662.0" fill="none" stroke="#333" stroke-width="0.6"/>
<path d="M1181.0,655.5 L1191.0,656.4" stroke="#222" stroke-width="0.9"/>
<ellipse cx="1143.5" cy="669.5" rx="7.5" ry="12.8" fill="#e0e0e0" stroke="#2a2a2a" stroke-width="1"/>
<ellipse cx="1144.8" cy="669.5" rx="7.5" ry="12.8" fill="#e8e8e8" stroke="#2a2a2a" stroke-width="1"/>
<ellipse cx="1146.0" cy="669.8" rx="4.0" ry="6.8" fill="#e4e4e4" stroke="#1a1a1a" stroke-width="1"/>
<path d="M1145.0,669.3 C1143.3,672.5 1144.3,674.5 1145.6,676.0" fill="none" stroke="#333" stroke-width="0.6"/>
<path d="M1141.8,669.5 L1151.8,670.4" stroke="#222" stroke-width="0.9"/>
<path d="M1010.4,425.7 L1129.2,543.6" stroke="#222" stroke-width="1.1" fill="none"/>
<path d="M1135.5,428.4 L1180.5,551.7" stroke="#222" stroke-width="1.1" fill="none"/>
<path d="M1290.3,435.6 L1269.6,558.9" stroke="#222" stroke-width="1.1" fill="none"/>
<text x="179.2" y="602.5" font-family="Liberation Sans" font-size="40.5" font-weight="normal" >2</text>
<polygon points="984,393.6 986.2,393.6 986.2,421.8 982.7,421.8 982.7,399.6 975.6,404 975.6,400.3" fill="#000"/>
<text x="1103.8" y="398.5" font-family="Liberation Sans" font-size="40.5" font-weight="normal" >3</text>
<text x="1292.8" y="402" font-family="Liberation Sans" font-size="40.5" font-weight="normal" >5</text>
<text x="669.5" y="563.7" font-family="Liberation Sans" font-size="40.5" font-weight="normal" >6</text>
<text x="323.6" y="855.5" font-family="Liberation Sans" font-size="40.5" font-weight="normal" >4</text>
<g transform="translate(133,93) scale(0.935,1)"><text x="0" y="0" font-family="Liberation Sans" font-size="28" font-weight="bold">ATTACHM.COMPLET / FÄSTE KOMPLETT</text></g>
<rect x="1014" y="85" width="7" height="3" fill="#000"/>
<g transform="translate(1788,93) scale(0.935,1)"><text x="0" y="0" font-family="Liberation Sans" font-size="28" font-weight="bold">DISPLAY</text></g>
<g transform="translate(58,1360) scale(0.95,1)"><text x="0" y="0" font-family="Liberation Sans" font-size="60" font-weight="bold" stroke="#fff" stroke-width="1">by AtlasCopco</text></g>
<text x="980" y="1334" font-family="Liberation Sans" font-size="24" font-weight="normal" >756</text>
<text x="135" y="1334" font-family="Liberation Sans" font-size="24" style="white-space:pre">5&#x2007;&#x2007;20&#x2007;05 37_20&#x2007;50529084525</text>
<polygon points="155.96,1317.08 157.28,1317.08 157.28,1334.00 155.18,1334.00 155.18,1320.68 150.74,1323.32 150.74,1321.10" fill="#000"/>
<polygon points="169.31,1317.08 170.63,1317.08 170.63,1334.00 168.53,1334.00 168.53,1320.68 164.09,1323.32 164.09,1321.10" fill="#000"/>
<polygon points="209.34,1317.08 210.66,1317.08 210.66,1334.00 208.56,1334.00 208.56,1320.68 204.12,1323.32 204.12,1321.10" fill="#000"/>
<polygon points="322.76,1317.08 324.08,1317.08 324.08,1334.00 321.98,1334.00 321.98,1320.68 317.54,1323.32 317.54,1321.10" fill="#000"/>
<text x="1770" y="1177.3" font-family="Liberation Sans" font-size="12.4" style="white-space:pre">5&#x2007;&#x2007;2 0&#x2007;05 37 Ed 02</text>
<polygon points="1780.83,1168.56 1781.51,1168.56 1781.51,1177.30 1780.43,1177.30 1780.43,1170.42 1778.13,1171.78 1778.13,1170.63" fill="#000"/>
<polygon points="1787.73,1168.56 1788.41,1168.56 1788.41,1177.30 1787.32,1177.30 1787.32,1170.42 1785.03,1171.78 1785.03,1170.63" fill="#000"/>
<polygon points="1811.86,1168.56 1812.54,1168.56 1812.54,1177.30 1811.45,1177.30 1811.45,1170.42 1809.16,1171.78 1809.16,1170.63" fill="#000"/>
</svg></body></html>
